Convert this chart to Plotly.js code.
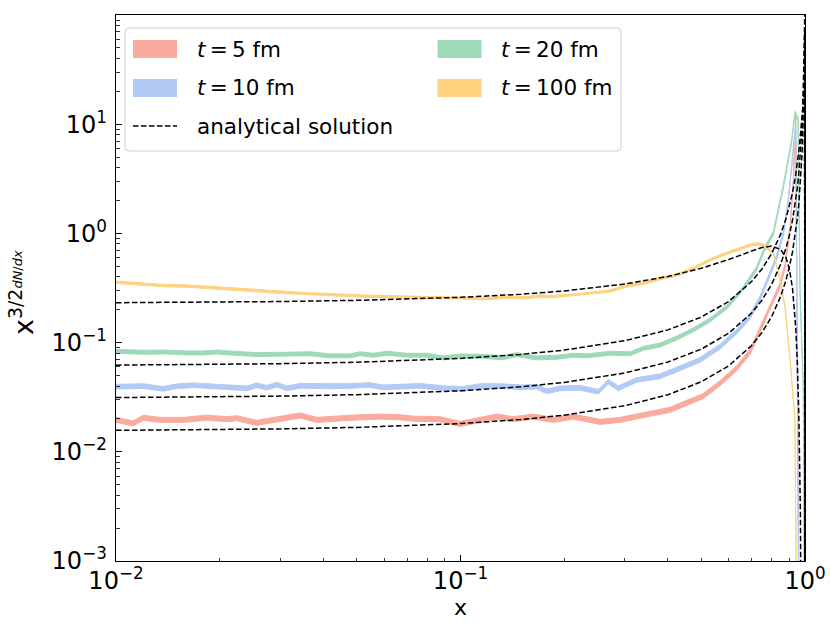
<!DOCTYPE html>
<html>
<head>
<meta charset="utf-8">
<script src="https://cdn.plot.ly/plotly-3.0.1.min.js"></script>
<style>
  body { margin: 0; background: #fff; }
  #chart { width: 830px; height: 623px; }
</style>
</head>
<body>
<div id="chart"></div>
<script>
// simulated x^{3/2} dN/dx, centre of each band
const x5 = [0.0100, 0.0112, 0.0120, 0.0134, 0.0157, 0.0183, 0.0210, 0.0224, 0.0256, 0.0293, 0.0342, 0.0383, 0.0478, 0.0584, 0.0667, 0.0730, 0.0872, 0.0997, 0.1139, 0.1274, 0.1423, 0.1627, 0.1859, 0.2126, 0.2541, 0.2904, 0.3245, 0.3628, 0.4056, 0.4536, 0.5068, 0.5667, 0.6335, 0.6925, 0.7402, 0.790, 0.845, 0.875, 0.905, 0.925, 0.940, 0.962];
const y5 = [0.0196, 0.0182, 0.0205, 0.0196, 0.0196, 0.0205, 0.0199, 0.0203, 0.0184, 0.0197, 0.0215, 0.0196, 0.0205, 0.0210, 0.0207, 0.0201, 0.0199, 0.0180, 0.0196, 0.0210, 0.0199, 0.0210, 0.0196, 0.0210, 0.0188, 0.0196, 0.0210, 0.0227, 0.0242, 0.0281, 0.0324, 0.0425, 0.0582, 0.0825, 0.130, 0.21, 0.33, 0.50, 1.1, 3.0, 11, 0.0002];

const x10 = [0.0100, 0.0120, 0.0137, 0.0150, 0.0168, 0.0200, 0.0240, 0.0256, 0.0274, 0.0293, 0.0313, 0.0342, 0.0409, 0.0478, 0.0546, 0.0597, 0.0763, 0.0912, 0.1019, 0.1139, 0.1302, 0.1522, 0.1664, 0.1779, 0.1945, 0.2223, 0.2512, 0.2686, 0.2871, 0.3245, 0.3794, 0.4338, 0.4957, 0.5667, 0.6335, 0.6925, 0.7402, 0.790, 0.828, 0.865, 0.894, 0.925, 0.940, 0.960];
const y10 = [0.0395, 0.0400, 0.0377, 0.0398, 0.0407, 0.0395, 0.0381, 0.0407, 0.0386, 0.0412, 0.0381, 0.0402, 0.0398, 0.0400, 0.0409, 0.0389, 0.0402, 0.0381, 0.0377, 0.0400, 0.0400, 0.0389, 0.0395, 0.0358, 0.0381, 0.0385, 0.0355, 0.0438, 0.0381, 0.0455, 0.0492, 0.0582, 0.0694, 0.0917, 0.126, 0.173, 0.254, 0.42, 0.61, 1.0, 2.0, 6.0, 9.5, 0.0002];

const x20 = [0.0100, 0.0120, 0.0140, 0.0160, 0.0179, 0.0196, 0.0219, 0.0256, 0.0306, 0.0366, 0.0418, 0.0478, 0.0511, 0.0558, 0.0611, 0.0698, 0.0798, 0.0891, 0.0997, 0.1139, 0.1331, 0.1456, 0.1664, 0.1902, 0.2126, 0.2325, 0.2716, 0.3105, 0.3394, 0.3794, 0.4242, 0.4741, 0.5299, 0.5926, 0.6622, 0.7240, 0.760, 0.809, 0.865, 0.915, 0.935, 0.955, 0.967, 0.9886, 0.9965];
const y20 = [0.0832, 0.0815, 0.0820, 0.0804, 0.0804, 0.0820, 0.0799, 0.0777, 0.0782, 0.0791, 0.0756, 0.0756, 0.0791, 0.0766, 0.0799, 0.0766, 0.0766, 0.0724, 0.0754, 0.0749, 0.0727, 0.0777, 0.0724, 0.0734, 0.0766, 0.0756, 0.0799, 0.0790, 0.0886, 0.0950, 0.110, 0.131, 0.161, 0.211, 0.314, 0.479, 0.70, 1.0, 2.67, 7.1, 12.6, 11, 0.30, 0.039, 0.0001];

const x100 = [0.0100, 0.0120, 0.0140, 0.0160, 0.0192, 0.0219, 0.0256, 0.0299, 0.0366, 0.0457, 0.0511, 0.0624, 0.0780, 0.0975, 0.1165, 0.1362, 0.1556, 0.1701, 0.1819, 0.2175, 0.2430, 0.2716, 0.3037, 0.3394, 0.3794, 0.4242, 0.4741, 0.5299, 0.5926, 0.6622, 0.700, 0.730, 0.760, 0.810, 0.840, 0.875, 0.905, 0.935, 0.945];
const y100 = [0.357, 0.344, 0.332, 0.330, 0.318, 0.310, 0.299, 0.289, 0.279, 0.272, 0.267, 0.263, 0.260, 0.258, 0.252, 0.260, 0.258, 0.267, 0.263, 0.274, 0.287, 0.297, 0.330, 0.349, 0.385, 0.416, 0.479, 0.571, 0.657, 0.746, 0.790, 0.800, 0.780, 0.657, 0.420, 0.213, 0.070, 0.0196, 0.0003];

// half width of each band, as a factor around the centre
const spread5 = 1.055, spread10 = 1.05, spread20 = 1.042, spread100 = 1.025;

// analytical solutions
const xa = [0.01, 0.015, 0.02, 0.03, 0.05, 0.07, 0.1, 0.15, 0.2, 0.3, 0.4, 0.5, 0.6, 0.7, 0.75, 0.8, 0.85, 0.88, 0.9, 0.92, 0.94, 0.95, 0.96, 0.97, 0.975, 0.98, 0.985, 0.99, 0.993, 0.995, 0.997, 0.998, 0.999, 0.9993, 0.9995, 0.9997, 0.9999, 0.99995, 0.99997];
const a5 = [0.01572, 0.01584, 0.01597, 0.01621, 0.01673, 0.01727, 0.01814, 0.01976, 0.02164, 0.02644, 0.03331, 0.04377, 0.06115, 0.09409, 0.1236, 0.1726, 0.2655, 0.3705, 0.4865, 0.6786, 1.041, 1.366, 1.901, 2.909, 3.805, 5.277, 8.023, 14.37, 23.76, 37.70, 73.34, 118.8, 230.4, 284.6, 306.3, 240.9, 8.15, 0.0121, 1.1e-6];
const a10 = [0.03138, 0.03161, 0.03186, 0.03235, 0.03337, 0.03445, 0.03619, 0.03942, 0.04316, 0.05270, 0.06637, 0.08715, 0.1216, 0.1868, 0.2450, 0.3414, 0.5230, 0.7272, 0.9512, 1.319, 2.006, 2.610, 3.593, 5.395, 6.950, 9.425, 13.80, 22.92, 34.39, 47.94, 68.97, 76.60, 47.89, 22.42, 6.616, 0.254, 2.4e-9, null, null];
const a20 = [0.06218, 0.06265, 0.06313, 0.06410, 0.06611, 0.06824, 0.07165, 0.07800, 0.08535, 0.1041, 0.1307, 0.1712, 0.2378, 0.3624, 0.4726, 0.6526, 0.9847, 1.349, 1.738, 2.356, 3.450, 4.356, 5.730, 7.978, 9.676, 11.98, 15.09, 18.53, 18.86, 15.67, 6.737, 1.654, 0.0112, 1.07e-4, 1.8e-7, null, null, null, null];
const a100 = [0.2320, 0.2334, 0.2348, 0.2377, 0.2437, 0.2498, 0.2596, 0.2773, 0.2971, 0.3439, 0.4033, 0.4794, 0.5761, 0.6896, 0.7413, 0.7659, 0.7131, 0.6026, 0.4789, 0.3146, 0.1377, 0.06613, 0.02042, 0.002539, 4.47e-4, 3.05e-5, 3.1e-7, null, null, null, null, null, null, null, null, null, null, null, null];

const labels = ['<i>t</i>\u2009=\u20095 fm', '<i>t</i>\u2009=\u200910 fm', '<i>t</i>\u2009=\u200920 fm', '<i>t</i>\u2009=\u2009100 fm', 'analytical solution'];
const colors = ['#fbab9e', '#b1caf6', '#9ed9b8', '#ffd280'];

const xTickVals = [0.01, 0.1, 1];
const xTickText = ['10<sup>−2</sup>', '10<sup>−1</sup>', '10<sup>0</sup>'];
const yTickVals = [1e-3, 1e-2, 1e-1, 1, 10, 100];
const yTickText = ['10<sup>−3</sup>', '10<sup>−2</sup>', '10<sup>−1</sup>', '10<sup>0</sup>', '10<sup>1</sup>', '10<sup>2</sup>'];
const xTitle = 'x';
const yTitle = 'x<sup>3/2<span style="font-size:13px"><i>dN</i>/<i>dx</i></span></sup>';

const FONT = 'DejaVu Sans, Liberation Sans, sans-serif';

function band(xs, ys, f, color, name) {
  const hi = ys.map(v => v * f);
  const lo = ys.map(v => v / f);
  return {
    x: xs.concat(xs.slice().reverse()),
    y: hi.concat(lo.reverse()),
    mode: 'lines',
    fill: 'toself',
    fillcolor: color,
    line: {color: color, width: 1},
    name: name,
    hoverinfo: 'skip',
    showlegend: false
  };
}

function analytic(ys) {
  return {
    x: xa, y: ys,
    mode: 'lines',
    line: {color: 'black', width: 1.5, dash: '5.5px,2.5px'},
    hoverinfo: 'skip',
    showlegend: false
  };
}

const data = [
  band(x5, y5, spread5, colors[0], labels[0]),
  band(x10, y10, spread10, colors[1], labels[1]),
  band(x20, y20, spread20, colors[2], labels[2]),
  band(x100, y100, spread100, colors[3], labels[3]),
  analytic(a5), analytic(a10), analytic(a20), analytic(a100)
];

// minor tick positions (2..9 of every decade)
const xMinor = [], yMinor = [];
for (let d = -2; d < 0; d++) for (let k = 2; k <= 9; k++) xMinor.push(k * Math.pow(10, d));
for (let d = -3; d < 2; d++) for (let k = 2; k <= 9; k++) yMinor.push(k * Math.pow(10, d));

// hand made legend box, in pixels of the figure
const L = 116, R = 805, T = 15, B = 561;
const px = v => (v - L) / (R - L);
const py = v => (B - v) / (B - T);

function roundBox(x0, y0, x1, y1, r) {
  const X0 = px(x0), X1 = px(x1), Y0 = py(y1), Y1 = py(y0);
  const rx = r / (R - L), ry = r / (B - T);
  return `M${X0 + rx},${Y0} L${X1 - rx},${Y0} Q${X1},${Y0} ${X1},${Y0 + ry} L${X1},${Y1 - ry} Q${X1},${Y1} ${X1 - rx},${Y1} L${X0 + rx},${Y1} Q${X0},${Y1} ${X0},${Y1 - ry} L${X0},${Y0 + ry} Q${X0},${Y0} ${X0 + rx},${Y0} Z`;
}

const shapes = [{
  type: 'path', xref: 'paper', yref: 'paper',
  path: roundBox(125, 28, 621, 151, 4),
  fillcolor: 'rgba(255,255,255,0.8)', line: {color: '#d0d0d0', width: 1}
}];
const annotations = [];
const entries = [
  {col: 0, row: 0, i: 0}, {col: 0, row: 1, i: 1},
  {col: 1, row: 0, i: 2}, {col: 1, row: 1, i: 3}
];
const colPatch = [133, 437.5], colText = [195, 499], rowY = [49, 88, 126];
entries.forEach(e => {
  const cy = rowY[e.row];
  shapes.push({
    type: 'rect', xref: 'paper', yref: 'paper',
    x0: px(colPatch[e.col]), x1: px(colPatch[e.col] + 44),
    y0: py(cy + 9), y1: py(cy - 9),
    fillcolor: colors[e.i], line: {width: 0}
  });
  annotations.push({
    xref: 'paper', yref: 'paper', x: px(colText[e.col]), y: py(cy),
    xanchor: 'left', yanchor: 'middle', showarrow: false,
    text: labels[e.i], font: {family: FONT, size: 21.5, color: 'black'}
  });
});
shapes.push({
  type: 'line', xref: 'paper', yref: 'paper',
  x0: px(133), x1: px(177), y0: py(rowY[2]), y1: py(rowY[2]),
  line: {color: 'black', width: 1.5, dash: '5.5px,2.5px'}
});
annotations.push({
  xref: 'paper', yref: 'paper', x: px(colText[0]), y: py(rowY[2]),
  xanchor: 'left', yanchor: 'middle', showarrow: false,
  text: labels[4], font: {family: FONT, size: 21.5, color: 'black'}
});

// axis titles
annotations.push({
  xref: 'paper', yref: 'paper', x: 0.5, y: py(607),
  xanchor: 'center', yanchor: 'middle', showarrow: false,
  text: xTitle, font: {family: FONT, size: 22, color: 'black'}
});
annotations.push({
  xref: 'paper', yref: 'paper', x: px(21), y: py(293),
  xanchor: 'center', yanchor: 'middle', showarrow: false, textangle: -90,
  text: yTitle, font: {family: FONT, size: 27, color: 'black'}
});

const axisCommon = {
  type: 'log',
  showgrid: false, zeroline: false,
  showline: true, mirror: true, linecolor: 'black', linewidth: 1.3,
  ticks: 'inside', ticklen: 6, tickwidth: 1, tickcolor: 'black',
  tickmode: 'array',
  tickfont: {family: FONT, size: 24, color: 'black'},
  ticklabelstandoff: 3
};

const layout = {
  width: 830, height: 623,
  margin: {l: L, r: 830 - R, t: T, b: 623 - B},
  paper_bgcolor: 'white', plot_bgcolor: 'white',
  font: {family: FONT, color: 'black'},
  showlegend: false,
  xaxis: Object.assign({}, axisCommon, {
    range: [-2, 0],
    tickvals: xTickVals, ticktext: xTickText,
    ticklabelstandoff: -2,
    minor: {tickmode: 'array', tickvals: xMinor, ticks: 'inside', ticklen: 3.5, tickwidth: 0.8, tickcolor: 'black'}
  }),
  yaxis: Object.assign({}, axisCommon, {
    range: [-3, 2],
    tickvals: yTickVals, ticktext: yTickText,
    minor: {tickmode: 'array', tickvals: yMinor, ticks: 'inside', ticklen: 3.5, tickwidth: 0.8, tickcolor: 'black'}
  }),
  shapes: shapes,
  annotations: annotations
};

Plotly.newPlot('chart', data, layout, {staticPlot: true, displayModeBar: false});
</script>
</body>
</html>
